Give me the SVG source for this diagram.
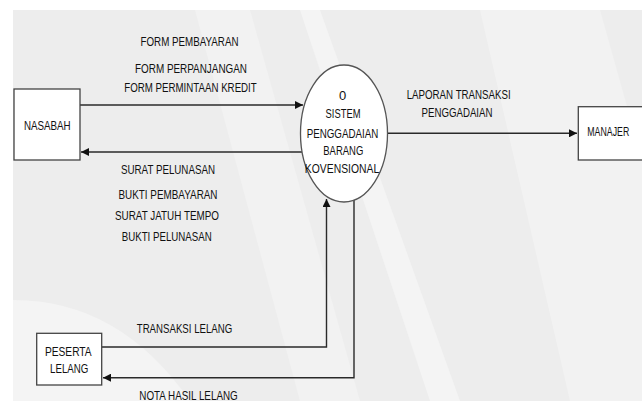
<svg xmlns="http://www.w3.org/2000/svg" width="642" height="401" viewBox="0 0 642 401">
<defs>
<style>
.bg{fill:#ededed}
.band{fill:#f2f2f2}
.band2{fill:#f4f4f4}
.box{fill:#ffffff;stroke:#444444;stroke-width:1.3}
.proc{fill:#ffffff;stroke:#555555;stroke-width:1.3}
.flow{fill:none;stroke:#2a2a2a;stroke-width:1.4}
text{font-family:"Liberation Sans",Arial,sans-serif;font-size:13px;fill:#111111;text-anchor:middle}
</style>
<marker id="ah" markerUnits="userSpaceOnUse" markerWidth="9" markerHeight="8" refX="8" refY="4" orient="auto">
<path d="M0,0 L8,4 L0,8 Z" fill="#111111"/>
</marker>
</defs>
<rect x="0" y="0" width="642" height="401" fill="#ffffff"/>
<rect class="bg" x="13" y="10" width="629" height="391"/>
<polygon class="band" points="195,10 250,10 360,401 300,401"/>
<polygon class="band2" points="300,10 320,10 460,401 430,401"/>
<polygon class="band" points="480,10 600,10 642,160 642,401 570,401"/>
<path class="band2" d="M13,300 Q120,300 190,401 L13,401 Z"/>

<g id="connectors">
<line class="flow" x1="80" y1="105" x2="303" y2="105" marker-end="url(#ah)"/>
<line class="flow" x1="302" y1="152" x2="81" y2="152" marker-end="url(#ah)"/>
<line class="flow" x1="387.5" y1="133.3" x2="577" y2="133.3" marker-end="url(#ah)"/>
<polyline class="flow" points="102,347 326.5,347 326.5,199" marker-end="url(#ah)"/>
<polyline class="flow" points="354,200 354,377.7 103,377.7" marker-end="url(#ah)"/>
<g id="flow-labels">
<text x="189.5" y="46.2" textLength="98" lengthAdjust="spacingAndGlyphs">FORM PEMBAYARAN</text>
<text x="191" y="72.7" textLength="112" lengthAdjust="spacingAndGlyphs">FORM PERPANJANGAN</text>
<text x="190.5" y="92.2" textLength="132.5" lengthAdjust="spacingAndGlyphs">FORM PERMINTAAN KREDIT</text>
<text x="168" y="174.2" textLength="94" lengthAdjust="spacingAndGlyphs">SURAT PELUNASAN</text>
<text x="168" y="198.7" textLength="99" lengthAdjust="spacingAndGlyphs">BUKTI PEMBAYARAN</text>
<text x="167" y="220.2" textLength="104" lengthAdjust="spacingAndGlyphs">SURAT JATUH TEMPO</text>
<text x="166.7" y="241.2" textLength="90" lengthAdjust="spacingAndGlyphs">BUKTI PELUNASAN</text>
<text x="458.7" y="98.7" textLength="104" lengthAdjust="spacingAndGlyphs">LAPORAN TRANSAKSI</text>
<text x="457" y="117" textLength="71" lengthAdjust="spacingAndGlyphs">PENGGADAIAN</text>
<text x="184.5" y="333" textLength="95.5" lengthAdjust="spacingAndGlyphs">TRANSAKSI LELANG</text>
<text x="188.5" y="399.5" textLength="98.4" lengthAdjust="spacingAndGlyphs">NOTA HASIL LELANG</text>
</g>
</g>

<g id="nasabah">
<rect class="box" x="14" y="89" width="66" height="71"/>
<text x="47.3" y="129.7" textLength="46.7" lengthAdjust="spacingAndGlyphs">NASABAH</text>
</g>

<g id="process-0">
<ellipse class="proc" cx="344" cy="133.5" rx="43.5" ry="68.5"/>
<text x="342.5" y="99.7">0</text>
<text x="343" y="118" textLength="35" lengthAdjust="spacingAndGlyphs">SISTEM</text>
<text x="342.5" y="138" textLength="71.7" lengthAdjust="spacingAndGlyphs">PENGGADAIAN</text>
<text x="343.3" y="155.2" textLength="40" lengthAdjust="spacingAndGlyphs">BARANG</text>
<text x="342" y="173" textLength="74.3" lengthAdjust="spacingAndGlyphs">KOVENSIONAL</text>
</g>

<g id="manajer">
<rect class="box" x="578.3" y="106.7" width="70" height="53.3"/>
<text x="608.3" y="136.4" textLength="42" lengthAdjust="spacingAndGlyphs">MANAJER</text>
</g>

<g id="peserta-lelang">
<rect class="box" x="36.7" y="333.3" width="65" height="51.7"/>
<text x="68.3" y="356.4" textLength="46.7" lengthAdjust="spacingAndGlyphs">PESERTA</text>
<text x="69.2" y="373" textLength="38.3" lengthAdjust="spacingAndGlyphs">LELANG</text>
</g>
</svg>
